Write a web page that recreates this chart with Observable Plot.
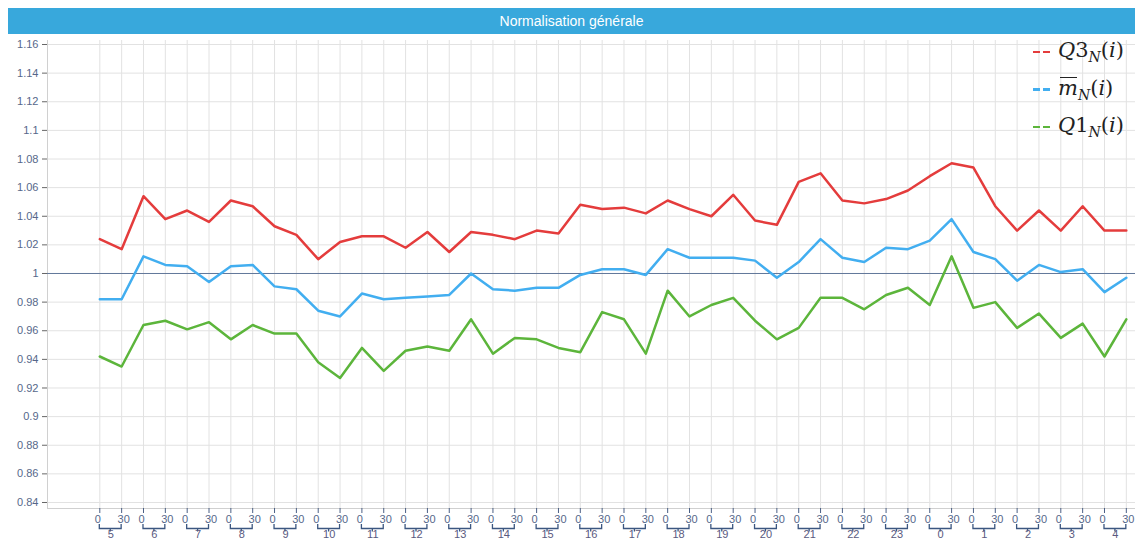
<!DOCTYPE html>
<html>
<head>
<meta charset="utf-8">
<script src="https://cdn.jsdelivr.net/npm/d3@7"></script>
<script src="https://cdn.jsdelivr.net/npm/@observablehq/plot@0.6"></script>
<style>
  html, body { margin: 0; padding: 0; background: #fff; }
  #wrap { position: relative; width: 1135px; height: 542px; overflow: hidden; font-family: "Liberation Sans", Arial, sans-serif; }
  #title { position: absolute; left: 8px; top: 8px; width: 1127px; height: 26px; background: #38a8dc; color: #fff; font-size: 14px; line-height: 26px; text-align: center; }
  #chart { position: absolute; left: 0; top: 34px; }
  #legend { position: absolute; left: 1033px; top: 33px; font-family: "DejaVu Serif", "Liberation Serif", serif; font-size: 21px; color: #222; }
  .row { height: 37.5px; display: flex; align-items: center; white-space: nowrap; }
  .dash { display: inline-block; width: 7px; height: 2.5px; margin-right: 3px; }
  .lab { margin-left: 5px; }
  .lab sub { font-size: 14px; vertical-align: -5px; }
  .ov { position: relative; }
  .ov::before { content: ""; position: absolute; left: 2px; right: 1px; top: 0.08em; border-top: 1.5px solid #222; }
</style>
</head>
<body>
<div id="wrap">
  <div id="title">Normalisation générale</div>
  <div id="chart"></div>
  <div id="legend"></div>
</div>
<script>
// ---- data ----
const hours = [5, 6, 7, 8, 9, 10, 11, 12, 13, 14, 15, 16, 17, 18, 19, 20, 21, 22, 23, 0, 1, 2, 3, 4];
const minutes = [0, 30];
const q3Values = [1.024, 1.017, 1.054, 1.038, 1.044, 1.036, 1.051, 1.047, 1.033, 1.027, 1.010, 1.022,
  1.026, 1.026, 1.018, 1.029, 1.015, 1.029, 1.027, 1.024, 1.030, 1.028, 1.048, 1.045,
  1.046, 1.042, 1.051, 1.045, 1.040, 1.055, 1.037, 1.034, 1.064, 1.070, 1.051, 1.049,
  1.052, 1.058, 1.068, 1.077, 1.074, 1.047, 1.030, 1.044, 1.030, 1.047, 1.030, 1.030];
const meanValues = [0.982, 0.982, 1.012, 1.006, 1.005, 0.994, 1.005, 1.006, 0.991, 0.989, 0.974, 0.970,
  0.986, 0.982, 0.983, 0.984, 0.985, 1.000, 0.989, 0.988, 0.990, 0.990, 0.999, 1.003,
  1.003, 0.999, 1.017, 1.011, 1.011, 1.011, 1.009, 0.997, 1.008, 1.024, 1.011, 1.008,
  1.018, 1.017, 1.023, 1.038, 1.015, 1.010, 0.995, 1.006, 1.001, 1.003, 0.987, 0.997];
const q1Values = [0.942, 0.935, 0.964, 0.967, 0.961, 0.966, 0.954, 0.964, 0.958, 0.958, 0.938, 0.927,
  0.948, 0.932, 0.946, 0.949, 0.946, 0.968, 0.944, 0.955, 0.954, 0.948, 0.945, 0.973,
  0.968, 0.944, 0.988, 0.970, 0.978, 0.983, 0.967, 0.954, 0.962, 0.983, 0.983, 0.975,
  0.985, 0.990, 0.978, 1.012, 0.976, 0.980, 0.962, 0.972, 0.955, 0.965, 0.942, 0.968];
const yTicks = [0.84, 0.86, 0.88, 0.9, 0.92, 0.94, 0.96, 0.98, 1, 1.02, 1.04, 1.06, 1.08, 1.1, 1.12, 1.14, 1.16];
const seriesNames = ["Q3", "mean", "Q1"];
const seriesColors = ["#e43c3c", "#42aef0", "#5cb53b"];

// ---- table ----
const rows = [];
hours.forEach((h, k) => minutes.forEach((m, j) => {
  const i = 2 * k + j;
  rows.push({i, hour: h, min: m, q3: q3Values[i], mean: meanValues[i], q1: q1Values[i]});
}));
const hourRows = hours.map((h, k) => ({hour: h, pos: 2 * k + 0.5}));
const idx = rows.map(d => d.i);

const axisColor = "#56678a";
const font = "Liberation Sans, Arial, sans-serif";

function brackets(index, scales, values, dimensions) {
  const x = scales.x;
  const yb = dimensions.height - dimensions.marginBottom;
  const g = d3.create("svg:g").attr("fill", "none").attr("stroke", "#3b5680").attr("stroke-width", 1.3);
  hours.forEach((h, k) => {
    const x0 = x(2 * k), x1 = x(2 * k + 1), xm = (x0 + x1) / 2;
    g.append("path").attr("d", `M${x0},${yb + 16}V${yb + 20.5}H${x1}V${yb + 16}M${xm},${yb + 20.5}V${yb + 23.5}`);
  });
  return g.node();
}

const chart = Plot.plot({
  width: 1135,
  height: 508,
  marginLeft: 47,
  marginRight: 0,
  marginTop: 6,
  marginBottom: 34,
  style: {background: "transparent", fontFamily: font, fontSize: "11px", color: axisColor},
  x: {type: "linear", domain: [-2.395, 47.42], axis: null},
  y: {domain: [0.8358, 1.1628], axis: null},
  marks: [
    Plot.gridX({ticks: idx, stroke: "#e2e2e2", strokeOpacity: 1}),
    Plot.gridY({ticks: yTicks, stroke: "#e2e2e2", strokeOpacity: 1}),
    Plot.ruleX([-2.395], {stroke: "#d0d0d0"}),
    Plot.ruleY([0.8358], {stroke: "#d0d0d0"}),
    Plot.axisY({ticks: yTicks, tickSize: 5, tickPadding: 4, stroke: "#666", fill: axisColor, tickFormat: d => String(+d.toFixed(2))}),
    Plot.axisX({ticks: idx, tickSize: 5, tickFormat: () => "", stroke: "#4a5f85"}),
    Plot.text(rows.filter(d => d.min === 0), {x: "i", text: d => String(d.min), frameAnchor: "bottom", dy: 14, dx: -2, fill: axisColor}),
    Plot.text(rows.filter(d => d.min === 30), {x: "i", text: d => String(d.min), frameAnchor: "bottom", dy: 14, dx: 2, fill: axisColor}),
    brackets,
    Plot.text(hourRows, {x: "pos", text: d => String(d.hour), frameAnchor: "bottom", dy: 29, fill: "#5a5a80"}),
    Plot.ruleY([1], {stroke: "#62789a", strokeWidth: 1}),
    Plot.line(rows, {x: "i", y: "q3", stroke: seriesColors[0], strokeWidth: 2.5}),
    Plot.line(rows, {x: "i", y: "mean", stroke: seriesColors[1], strokeWidth: 2.5}),
    Plot.line(rows, {x: "i", y: "q1", stroke: seriesColors[2], strokeWidth: 2.5})
  ]
});
document.getElementById("chart").appendChild(chart);

// ---- legend ----
const labels = [
  '<i>Q</i>3<sub><i>N</i></sub>(<i>i</i>)',
  '<i class="ov">m</i><sub><i>N</i></sub>(<i>i</i>)',
  '<i>Q</i>1<sub><i>N</i></sub>(<i>i</i>)'
];
const legend = document.getElementById("legend");
seriesNames.forEach((s, k) => {
  const row = document.createElement("div");
  row.className = "row";
  row.innerHTML = `<span class="dash" style="background:${seriesColors[k]}"></span><span class="dash" style="background:${seriesColors[k]}"></span><span class="lab">${labels[k]}</span>`;
  legend.appendChild(row);
});
</script>
</body>
</html>
